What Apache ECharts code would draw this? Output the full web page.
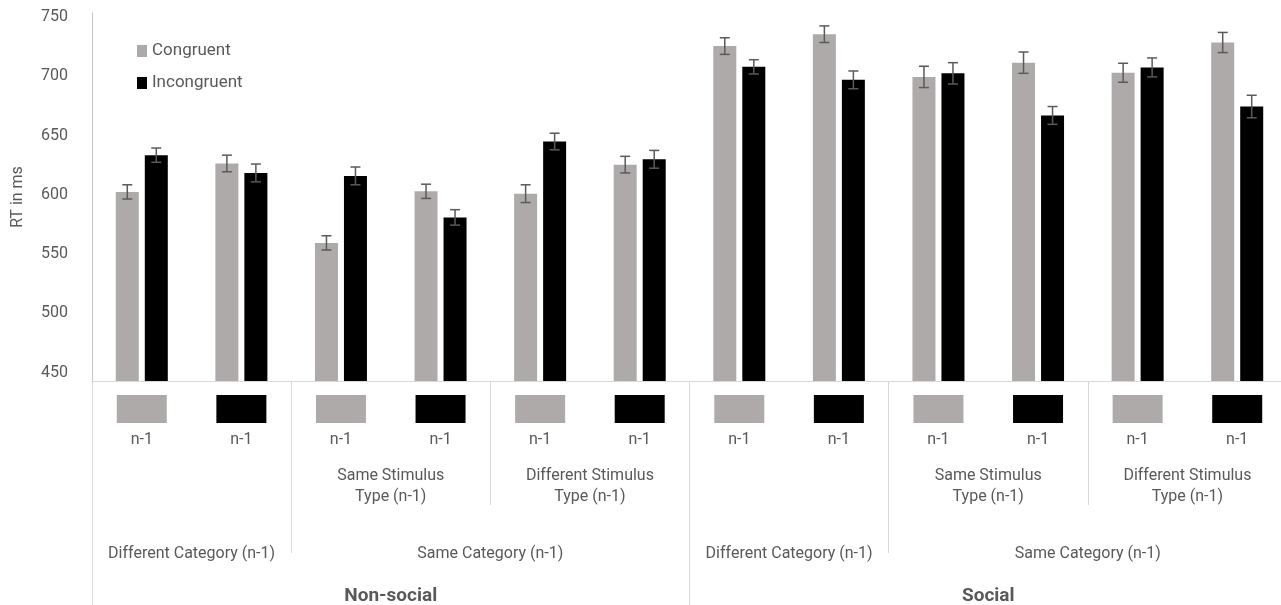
<!DOCTYPE html>
<html>
<head>
<meta charset="utf-8">
<script src="https://cdn.jsdelivr.net/npm/echarts@6/dist/echarts.min.js"></script>
<style>
  html, body { margin: 0; padding: 0; background: #fff; }
  #chart { width: 1281px; height: 605px; }
</style>
</head>
<body>
<div id="chart"></div>
<script>
// Current-trial conditions (bar series)
const seriesNames = ['Congruent', 'Incongruent'];

// Previous-trial slots along the x axis (12 slots)
const slotIds = ['ns-dc-c', 'ns-dc-i', 'ns-ss-c', 'ns-ss-i', 'ns-ds-c', 'ns-ds-i',
                 's-dc-c', 's-dc-i', 's-ss-c', 's-ss-i', 's-ds-c', 's-ds-i'];
const previousTrial = ['Congruent', 'Incongruent', 'Congruent', 'Incongruent', 'Congruent', 'Incongruent',
                       'Congruent', 'Incongruent', 'Congruent', 'Incongruent', 'Congruent', 'Incongruent'];
const slotLabels = ['n-1', 'n-1', 'n-1', 'n-1', 'n-1', 'n-1', 'n-1', 'n-1', 'n-1', 'n-1', 'n-1', 'n-1'];

// Mean RT (ms) and error half-widths
const congruentRT    = [602.5, 626.5, 559.5, 603.0, 601.0, 625.5, 725.5, 735.5, 699.5, 711.5, 703.0, 728.5];
const congruentErr   = [6.0,   7.0,   6.0,   6.0,   7.5,   7.0,   7.0,   7.0,   9.0,   9.0,   8.0,   8.5];
const incongruentRT  = [633.5, 618.5, 616.0, 581.0, 645.0, 630.0, 708.0, 697.0, 702.5, 667.0, 707.5, 674.5];
const incongruentErr = [6.0,   7.5,   7.5,   6.5,   7.0,   7.5,   6.0,   7.5,   9.0,   7.5,   8.0,   9.5];

// Grouping labels, placed on slot boundaries (13 boundary points)
const stimulusLabels = ['', '', '', 'Same Stimulus\nType (n-1)', '', 'Different Stimulus\nType (n-1)', '',
                        '', '', 'Same Stimulus\nType (n-1)', '', 'Different Stimulus\nType (n-1)', ''];
const categoryLabels = ['', 'Different Category (n-1)', '', '', 'Same Category (n-1)', '', '',
                        'Different Category (n-1)', '', '', 'Same Category (n-1)', '', ''];
const domainLabels = ['Non-social', 'Social'];

// Value-axis tick labels
const yTicks = [450, 500, 550, 600, 650, 700, 750];

const GRAY = '#aeaaaa';
const BLACK = '#000000';
const TEXT = '#595959';
const RULE = '#d9d9d9';
const FONT = 'Roboto';
const BAR_W = 23;
const BAR_GAP = 6;

const boundaryIds = Array.from({ length: 13 }, (_, i) => 'b' + i);

function errorData(means, errs) {
  return means.map((m, i) => [i, m - errs[i], m + errs[i]]);
}

function errorSeries(name, means, errs, side) {
  return {
    type: 'custom',
    name: name + ' error',
    xAxisIndex: 0,
    yAxisIndex: 0,
    z: 5,
    silent: true,
    encode: { x: 0, y: [1, 2] },
    data: errorData(means, errs),
    renderItem: function (params, api) {
      const lo = api.coord([api.value(0), api.value(1)]);
      const hi = api.coord([api.value(0), api.value(2)]);
      const x = lo[0] + side * (BAR_W + BAR_GAP) / 2;
      const cap = 5;
      const style = { stroke: '#5a5a5a', lineWidth: 1.5 };
      return {
        type: 'group',
        children: [
          { type: 'line', shape: { x1: x, y1: lo[1], x2: x, y2: hi[1] }, style: style },
          { type: 'line', shape: { x1: x - cap, y1: lo[1], x2: x + cap, y2: lo[1] }, style: style },
          { type: 'line', shape: { x1: x - cap, y1: hi[1], x2: x + cap, y2: hi[1] }, style: style }
        ]
      };
    }
  };
}

const chart = echarts.init(document.getElementById('chart'), null, { renderer: 'canvas' });

const option = {
  animation: false,
  backgroundColor: '#ffffff',
  textStyle: { fontFamily: FONT },
  legend: {
    orient: 'vertical',
    left: 132,
    top: 36,
    itemWidth: 10,
    itemHeight: 12,
    itemGap: 12,
    icon: 'rect',
    data: seriesNames,
    textStyle: { color: TEXT, fontSize: 17, fontFamily: FONT, lineHeight: 20 }
  },
  grid: {
    left: 92,
    top: 13,
    width: 1195,
    height: 368,
    outerBoundsMode: 'none',
    containLabel: false
  },
  yAxis: {
    type: 'value',
    min: 443,
    max: 753.4,
    name: 'RT in ms',
    nameLocation: 'middle',
    nameGap: 66,
    nameTextStyle: { color: TEXT, fontSize: 16, fontFamily: FONT },
    axisLine: { show: true, lineStyle: { color: '#c4c4c4', width: 1 } },
    axisTick: { show: false },
    splitLine: { show: false },
    axisLabel: {
      customValues: yTicks,
      color: TEXT,
      fontSize: 16,
      fontFamily: FONT,
      margin: 24
    }
  },
  xAxis: [
    {
      // previous-trial slots with colour keys
      type: 'category',
      position: 'bottom',
      data: slotIds,
      axisLine: { show: true, lineStyle: { color: RULE, width: 1 } },
      axisTick: {
        show: true,
        length: 124,
        interval: function (index) { return index % 2 === 0; },
        lineStyle: { color: RULE, width: 1 }
      },
      axisLabel: {
        interval: 0,
        margin: 14,
        formatter: function (value, index) {
          const key = previousTrial[index] === 'Congruent' ? '{g|}' : '{k|}';
          return key + '\n{t|' + slotLabels[index] + '}';
        },
        rich: {
          g: { width: 50, height: 28, backgroundColor: GRAY },
          k: { width: 50, height: 28, backgroundColor: BLACK },
          t: { color: TEXT, fontSize: 16, fontFamily: FONT, lineHeight: 34, verticalAlign: 'middle' }
        }
      }
    },
    {
      // stimulus-type row
      type: 'category',
      position: 'bottom',
      boundaryGap: false,
      data: boundaryIds,
      axisLine: { show: false },
      axisTick: { show: false },
      axisLabel: {
        interval: 0,
        margin: 84,
        color: TEXT,
        fontSize: 16,
        fontFamily: FONT,
        lineHeight: 21,
        formatter: function (value, index) { return stimulusLabels[index]; }
      }
    },
    {
      // category row
      type: 'category',
      position: 'bottom',
      boundaryGap: false,
      data: boundaryIds,
      axisLine: { show: false },
      axisTick: {
        show: true,
        length: 172,
        interval: function (index) { return index === 2 || index === 8; },
        lineStyle: { color: RULE, width: 1 }
      },
      axisLabel: {
        interval: 0,
        margin: 163,
        color: TEXT,
        fontSize: 16,
        fontFamily: FONT,
        lineHeight: 20,
        formatter: function (value, index) { return categoryLabels[index]; }
      }
    },
    {
      // domain row
      type: 'category',
      position: 'bottom',
      data: domainLabels,
      axisLine: { show: false },
      axisTick: {
        show: true,
        length: 240,
        interval: 0,
        lineStyle: { color: RULE, width: 1 }
      },
      axisLabel: {
        interval: 0,
        margin: 205,
        color: TEXT,
        fontSize: 19,
        fontWeight: 'bold',
        fontFamily: FONT,
        lineHeight: 20
      }
    }
  ],
  series: [
    {
      name: seriesNames[0],
      type: 'bar',
      xAxisIndex: 0,
      barWidth: BAR_W,
      barGap: (BAR_GAP / BAR_W * 100).toFixed(1) + '%',
      itemStyle: { color: GRAY },
      data: congruentRT
    },
    {
      name: seriesNames[1],
      type: 'bar',
      xAxisIndex: 0,
      barWidth: BAR_W,
      barGap: (BAR_GAP / BAR_W * 100).toFixed(1) + '%',
      itemStyle: { color: BLACK },
      data: incongruentRT
    },
    errorSeries(seriesNames[0], congruentRT, congruentErr, -1),
    errorSeries(seriesNames[1], incongruentRT, incongruentErr, 1)
  ]
};

chart.setOption(option);
</script>
</body>
</html>
